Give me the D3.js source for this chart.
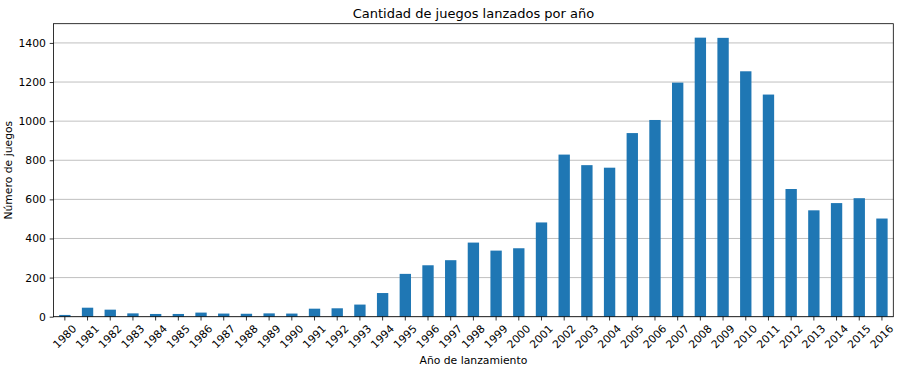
<!DOCTYPE html>
<html><head><meta charset="utf-8">
<script src="https://cdn.jsdelivr.net/npm/d3@7"></script>
<style>body{margin:0;background:#fff}svg{display:block;font-family:"DejaVu Sans",sans-serif}</style>
</head><body><svg id="c" width="904" height="371"></svg>
<script>
const years = ["1980","1981","1982","1983","1984","1985","1986","1987","1988","1989","1990","1991","1992","1993","1994","1995","1996","1997","1998","1999","2000","2001","2002","2003","2004","2005","2006","2007","2008","2009","2010","2011","2012","2013","2014","2015","2016"];
const counts = [9,46,36,17,14,14,21,16,15,17,16,41,43,62,121,219,263,289,379,338,350,482,829,775,762,939,1006,1197,1427,1426,1255,1136,653,544,581,606,502];
const yTicks = [0,200,400,600,800,1000,1200,1400];
const title = "Cantidad de juegos lanzados por año";
const xLabel = "Año de lanzamiento";
const yLabel = "Número de juegos";

const svg = d3.select("#c");
const L = 53.5, R = 893.3, T = 23.7, B = 316.7;
const FS = 10.8;
const x = d3.scaleBand().domain(years).range([L, R]).paddingInner(0.5).paddingOuter(0.25);
const y = d3.scaleLinear().domain([0, d3.max(counts) * 1.05]).range([B, T]);

// grid
svg.append("g").selectAll("line").data(yTicks).join("line")
  .attr("x1", L).attr("x2", R).attr("y1", d => y(d)).attr("y2", d => y(d))
  .attr("stroke", "#b0b0b0").attr("stroke-width", 0.8);

// bars
svg.append("g").selectAll("rect").data(years).join("rect")
  .attr("x", d => x(d)).attr("width", x.bandwidth())
  .attr("y", (d, i) => y(counts[i])).attr("height", (d, i) => B - y(counts[i]))
  .attr("fill", "#1f77b4");

// y axis
const ya = svg.append("g").attr("transform", `translate(${L},0)`)
  .call(d3.axisLeft(y).tickValues(yTicks).tickSize(3.8).tickPadding(3.8).tickFormat(d3.format("d")));
ya.select(".domain").remove();
ya.selectAll("text").attr("font-size", FS).attr("fill", "#000").attr("font-family", "DejaVu Sans");
ya.selectAll("line").attr("stroke", "#000").attr("stroke-width", 0.8);

// x axis
const xa = svg.append("g").attr("transform", `translate(0,${B})`)
  .call(d3.axisBottom(x).tickSize(3.8).tickFormat(d => d));
xa.select(".domain").remove();
xa.selectAll("line").attr("stroke", "#000").attr("stroke-width", 0.8);
xa.selectAll("text").attr("font-size", FS).attr("fill", "#000").attr("font-family", "DejaVu Sans")
  .attr("text-anchor", "middle").attr("dy", null).attr("dominant-baseline", "central")
  .attr("y", 20).attr("transform", "rotate(-45,0,20)");

// frame
svg.append("rect").attr("x", L).attr("y", T).attr("width", R - L).attr("height", B - T)
  .attr("fill", "none").attr("stroke", "#000").attr("stroke-width", 0.8);

svg.append("text").attr("x", (L + R) / 2).attr("y", 17.5).attr("text-anchor", "middle")
  .attr("font-size", 13).text(title);
svg.append("text").attr("x", (L + R) / 2).attr("y", 363.5).attr("text-anchor", "middle")
  .attr("font-size", FS).text(xLabel);
svg.append("text").attr("transform", `translate(11.5,${(T + B) / 2}) rotate(-90)`).attr("text-anchor", "middle")
  .attr("font-size", FS).text(yLabel);
</script></body></html>
